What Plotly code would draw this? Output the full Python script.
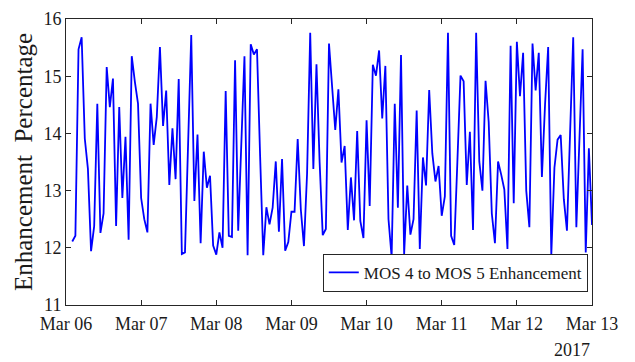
import pandas as pd
import plotly.graph_objects as go

# hourly readings starting 2017-03-06 02:00
start_time = "2017-03-06 02:00"
enhancement = [
    12.11, 12.21, 15.47, 15.68, 13.91, 13.38, 11.94, 12.38, 14.52, 12.26,
    12.60, 15.16, 14.46, 14.96, 12.38, 14.46, 12.87, 13.94, 12.14, 15.35,
    14.90, 14.52, 12.87, 12.50, 12.27, 14.52, 13.80, 14.29, 15.51, 14.13,
    14.75, 13.10, 14.09, 13.20, 14.95, 11.89, 11.92, 13.80, 15.72, 12.82,
    13.98, 12.08, 13.68, 13.05, 13.26, 12.04, 11.88, 12.27, 12.00, 14.74,
    12.21, 12.19, 15.28, 12.30, 13.80, 15.35, 11.87, 15.56, 15.38, 15.47,
    13.60, 11.87, 12.71, 12.41, 12.70, 13.51, 12.28, 13.55, 11.95, 12.10,
    12.63, 12.63, 13.90, 12.67, 12.03, 13.30, 15.76, 13.38, 15.21, 13.50,
    12.22, 12.33, 15.57, 14.80, 14.06, 14.77, 13.49, 13.78, 12.31, 13.23,
    12.48, 14.04, 12.47, 12.17, 14.23, 12.73, 15.20, 15.01, 15.45, 14.26,
    15.18, 12.50, 11.84, 14.52, 12.70, 15.37, 11.89, 13.09, 12.23, 12.50,
    14.40, 11.98, 13.58, 13.09, 14.76, 13.65, 13.16, 13.43, 12.56, 12.90,
    15.76, 12.21, 12.05, 13.50, 15.01, 14.91, 13.10, 14.03, 12.31, 15.76,
    13.51, 13.00, 14.92, 14.20, 12.60, 12.08, 13.51, 13.28, 13.02, 11.98,
    15.53, 12.78, 15.60, 14.65, 15.41, 13.00, 12.36, 15.57, 14.75, 15.41,
    13.24, 14.50, 15.51, 11.87, 13.40, 13.89, 13.97, 12.85, 12.30, 14.00,
    15.68, 12.36, 13.90, 15.47, 11.92, 13.74, 12.40,
]
times = pd.date_range(start_time, periods=len(enhancement), freq="h")

tick_dates = ["2017-03-06", "2017-03-07", "2017-03-08", "2017-03-09",
              "2017-03-10", "2017-03-11", "2017-03-12", "2017-03-13"]
tick_labels = ["Mar 06", "Mar 07", "Mar 08", "Mar 09",
               "Mar 10", "Mar 11", "Mar 12", "Mar 13"]
y_ticks = [11, 12, 13, 14, 15, 16]
series_name = "MOS 4 to MOS 5 Enhancement"

FONT = "Liberation Serif"
AX = "#262626"
TXT = "#1a1a1a"

fig = go.Figure()
fig.add_trace(go.Scatter(
    x=times, y=enhancement, mode="lines", name=series_name,
    line=dict(color="#0000ff", width=1.8),
))

# page body adds an 8px offset, so the figure is sized to fit the window
fig.update_layout(
    width=627, height=354,
    margin=dict(l=57.5, r=42.7, t=11, b=57, autoexpand=False),
    paper_bgcolor="white", plot_bgcolor="white",
    font=dict(family=FONT, size=18, color=AX),
    showlegend=True,
    legend=dict(
        x=0.992, y=0.046, xanchor="right", yanchor="bottom",
        bgcolor="white", bordercolor=AX, borderwidth=1,
        font=dict(family=FONT, size=17, color=TXT),
        itemwidth=30, tracegroupgap=0,
    ),
    xaxis=dict(
        range=["2017-03-06", "2017-03-13"], automargin=False,
        tickmode="array", tickvals=tick_dates, ticktext=tick_labels,
        ticks="inside", ticklen=5, tickcolor=AX, tickwidth=1,
        showline=True, linecolor=AX, linewidth=1, mirror="ticks",
        showgrid=False, zeroline=False, ticklabelstandoff=2,
        ticklabeloverflow="allow",
        tickfont=dict(family=FONT, size=18, color=TXT),
    ),
    yaxis=dict(
        range=[11, 16], automargin=False, tickmode="array", tickvals=y_ticks,
        ticks="inside", ticklen=5, tickcolor=AX, tickwidth=1,
        showline=True, linecolor=AX, linewidth=1, mirror="ticks",
        showgrid=False, zeroline=False, ticklabeloverflow="allow",
        tickfont=dict(family=FONT, size=18, color=TXT),
        title=dict(text="Enhancement  Percentage",
                   font=dict(family=FONT, size=25, color=TXT),
                   standoff=3),
    ),
)

fig.add_annotation(
    text="2017", xref="paper", yref="paper", x=1.0, y=-0.156,
    xanchor="right", yanchor="middle", showarrow=False,
    font=dict(family=FONT, size=18, color=TXT),
)

fig.write_html("out.html")
